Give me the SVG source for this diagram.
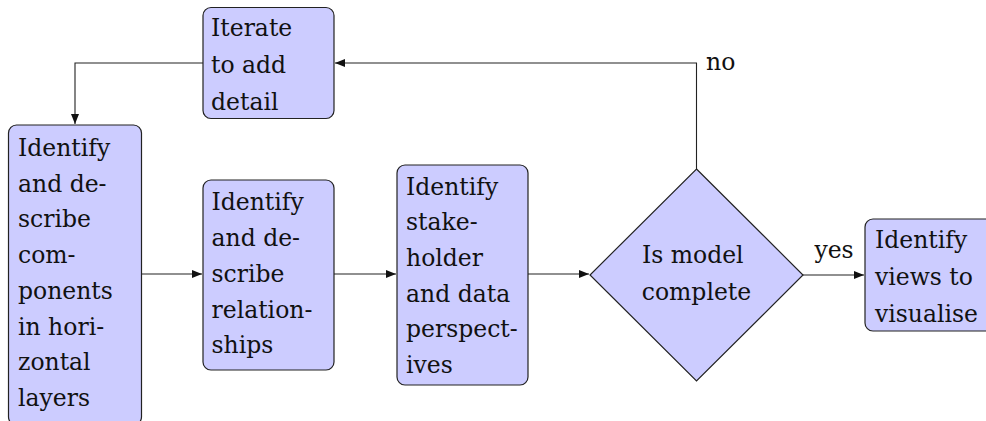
<svg xmlns="http://www.w3.org/2000/svg" width="986" height="421" viewBox="0 0 986 421">
  <style>
    .box { fill: #ccccff; stroke: #222; stroke-width: 1.2; }
    .lbl { font-family: "DejaVu Serif", "Liberation Serif", serif; font-size: 23.5px; fill: #111; }
    .mid { text-anchor: middle; }
    .edge { fill: none; stroke: #222; stroke-width: 1.1; }
  </style>
  <defs>
    <marker id="arrow" viewBox="0 0 10 8" refX="10" refY="4" markerWidth="10" markerHeight="8" markerUnits="userSpaceOnUse" orient="auto">
      <path d="M0,0 L10,4 L0,8 Z" fill="#111"/>
    </marker>
  </defs>

  <rect width="986" height="421" fill="#fff"/>

  <!-- connectors -->
  <g id="connectors">
    <path class="edge" d="M203,63 H75 V124" marker-end="url(#arrow)"/>
    <path class="edge" d="M142,274 H202" marker-end="url(#arrow)"/>
    <path class="edge" d="M334,274 H396" marker-end="url(#arrow)"/>
    <path class="edge" d="M528,274 H589" marker-end="url(#arrow)"/>
    <path class="edge" d="M802.5,275 H864" marker-end="url(#arrow)"/>
    <path class="edge" d="M696.5,169 V63 H335" marker-end="url(#arrow)"/>
    <text class="lbl" x="706" y="70">no</text>
    <text class="lbl mid" x="834" y="258">yes</text>
  </g>

  <!-- iterate -->
  <g id="iterate">
    <rect class="box" x="203" y="7.5" width="131" height="111" rx="8"/>
    <text class="lbl" x="211">
      <tspan x="211" y="36">Iterate</tspan>
      <tspan x="211" y="73">to add</tspan>
      <tspan x="211" y="110">detail</tspan>
    </text>
  </g>

  <!-- components -->
  <g id="components">
    <rect class="box" x="8.5" y="125" width="133" height="300" rx="8"/>
    <text class="lbl">
      <tspan x="18" y="156">Identify</tspan>
      <tspan x="18" y="192">and de-</tspan>
      <tspan x="18" y="227">scribe</tspan>
      <tspan x="18" y="263">com-</tspan>
      <tspan x="18" y="299">ponents</tspan>
      <tspan x="18" y="335">in hori-</tspan>
      <tspan x="18" y="370">zontal</tspan>
      <tspan x="18" y="406">layers</tspan>
    </text>
  </g>

  <!-- relationships -->
  <g id="relationships">
    <rect class="box" x="203" y="180" width="131" height="190" rx="8"/>
    <text class="lbl">
      <tspan x="211.5" y="210">Identify</tspan>
      <tspan x="211.5" y="246">and de-</tspan>
      <tspan x="211.5" y="282">scribe</tspan>
      <tspan x="211.5" y="318">relation-</tspan>
      <tspan x="211.5" y="353">ships</tspan>
    </text>
  </g>

  <!-- perspectives -->
  <g id="perspectives">
    <rect class="box" x="397" y="165" width="131" height="220" rx="8"/>
    <text class="lbl">
      <tspan x="406" y="195">Identify</tspan>
      <tspan x="406" y="230">stake-</tspan>
      <tspan x="406" y="266">holder</tspan>
      <tspan x="406" y="302">and data</tspan>
      <tspan x="406" y="337">perspect-</tspan>
      <tspan x="406" y="373">ives</tspan>
    </text>
  </g>

  <!-- decision -->
  <g id="decision">
    <polygon class="box" points="696.5,169 803,275 696.5,381 590,275"/>
    <text class="lbl mid">
      <tspan x="696.5" y="263">Is model</tspan>
      <tspan x="696.5" y="300">complete</tspan>
    </text>
  </g>

  <!-- views -->
  <g id="views">
    <rect class="box" x="865" y="219" width="135" height="112" rx="8"/>
    <text class="lbl">
      <tspan x="875" y="248">Identify</tspan>
      <tspan x="875" y="285">views to</tspan>
      <tspan x="875" y="322">visualise</tspan>
    </text>
  </g>
</svg>
